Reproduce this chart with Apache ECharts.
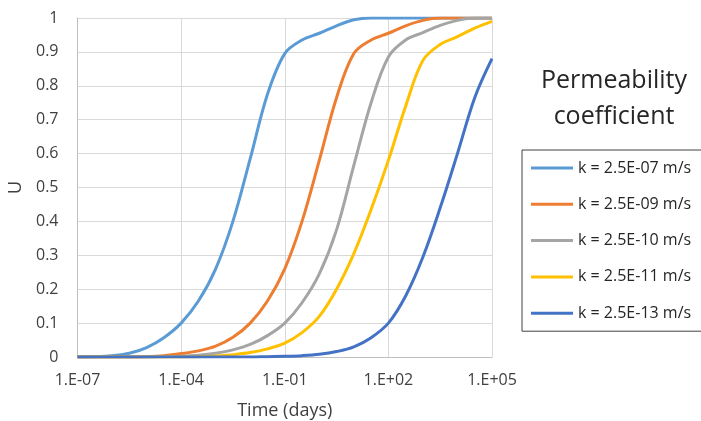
<!DOCTYPE html>
<html>
<head>
<meta charset="utf-8">
<script src="https://cdn.jsdelivr.net/npm/echarts@6/dist/echarts.min.js"></script>
<style>
  html, body { margin: 0; background: #fff; }
  #chart { width: 701px; height: 421px; }
</style>
</head>
<body>
<div id="chart"></div>
<script>
// time samples (days), half-decade steps
const timeDays = [1e-7, 3.16e-7, 1e-6, 3.16e-6, 1e-5, 3.16e-5, 1e-4, 3.16e-4, 1e-3, 3.16e-3,
  1e-2, 3.16e-2, 0.1, 0.316, 1, 3.16, 10, 31.6, 100, 316, 1000, 3160, 1e4, 3.16e4, 1e5]

const seriesNames = ['k = 2.5E-07 m/s', 'k = 2.5E-09 m/s', 'k = 2.5E-10 m/s', 'k = 2.5E-11 m/s', 'k = 2.5E-13 m/s']
const seriesColors = ['#5B9BD5', '#ED7D31', '#A5A5A5', '#FFC000', '#4472C4']

const uK07 = [0, 0.001, 0.004, 0.011, 0.028, 0.057, 0.1, 0.165, 0.26, 0.4, 0.585, 0.775, 0.895, 0.935, 0.955, 0.977, 0.995, 1, 1, 1, 1, 1, 1, 1, 1]
const uK09 = [0, 0, 0, 0, 0.001, 0.004, 0.01, 0.018, 0.032, 0.058, 0.1, 0.165, 0.26, 0.4, 0.58, 0.765, 0.895, 0.935, 0.955, 0.977, 0.993, 1, 1, 1, 1]
const uK10 = [0, 0, 0, 0, 0, 0.001, 0.002, 0.005, 0.011, 0.021, 0.037, 0.063, 0.1, 0.16, 0.245, 0.375, 0.565, 0.75, 0.885, 0.935, 0.957, 0.978, 0.993, 1, 1]
const uK11 = [0, 0, 0, 0, 0, 0, 0, 0.001, 0.003, 0.007, 0.013, 0.024, 0.041, 0.072, 0.12, 0.2, 0.305, 0.435, 0.58, 0.74, 0.875, 0.922, 0.945, 0.97, 0.99]
const uK13 = [0, 0, 0, 0, 0, 0, 0, 0, 0, 0, 0, 0.001, 0.002, 0.004, 0.008, 0.016, 0.03, 0.057, 0.1, 0.18, 0.295, 0.44, 0.6, 0.765, 0.88]
const seriesValues = [uK07, uK09, uK10, uK11, uK13]

const FONT = '"Open Sans", "Noto Sans", sans-serif'

const fmtExp = (v) => {
  const e = Math.round(Math.log10(v))
  const sign = e < 0 ? '-' : '+'
  return `1.E${sign}${String(Math.abs(e)).padStart(2, '0')}`
}

const chart = echarts.init(document.getElementById('chart'))

chart.setOption({
  animation: false,
  grid: { left: 77.5, right: 209, top: 18, bottom: 64, outerBoundsMode: 'none' },
  xAxis: {
    type: 'log',
    logBase: 10,
    min: 1e-7,
    max: 1e5,
    interval: 3,
    name: 'Time (days)',
    nameLocation: 'middle',
    nameGap: 45,
    nameTextStyle: { fontSize: 18, color: '#404040', fontFamily: FONT },
    axisLine: { lineStyle: { color: '#bfbfbf', width: 1 } },
    axisTick: { show: false },
    minorTick: { show: false },
    axisLabel: { formatter: fmtExp, color: '#404040', fontSize: 16, fontFamily: FONT, margin: 15 },
    splitLine: { show: true, lineStyle: { color: '#d9d9d9', width: 1 } },
  },
  yAxis: {
    type: 'value',
    min: 0,
    max: 1,
    interval: 0.1,
    name: 'U',
    nameLocation: 'middle',
    nameGap: 47,
    nameTextStyle: { fontSize: 18, color: '#404040', fontFamily: FONT },
    axisLine: { show: true, lineStyle: { color: '#bfbfbf', width: 1 } },
    axisTick: { show: false },
    axisLabel: { color: '#404040', fontSize: 16, fontFamily: FONT, margin: 19 },
    splitLine: { lineStyle: { color: '#d9d9d9', width: 1 } },
  },
  legend: {
    orient: 'vertical',
    left: 522,
    top: 150,
    padding: [10, 40, 10, 9],
    itemGap: 20.3,
    itemWidth: 42,
    itemHeight: 3,
    icon: 'rect',
    borderColor: '#404040',
    borderWidth: 1,
    textStyle: { fontSize: 16, color: '#262626', fontFamily: FONT },
    data: seriesNames,
  },
  graphic: [{
    type: 'text',
    x: 614,
    y: 63,
    style: {
      text: 'Permeability\ncoefficient',
      font: `25px ${FONT}`,
      textAlign: 'center',
      lineHeight: 36,
      fill: '#262626',
    },
  }],
  series: seriesNames.map((name, i) => ({
    name,
    type: 'line',
    data: timeDays.map((t, j) => [t, seriesValues[i][j]]),
    smooth: 0.35,
    symbol: 'none',
    color: seriesColors[i],
    lineStyle: { width: 3, color: seriesColors[i] },
  })),
})
</script>
</body>
</html>
